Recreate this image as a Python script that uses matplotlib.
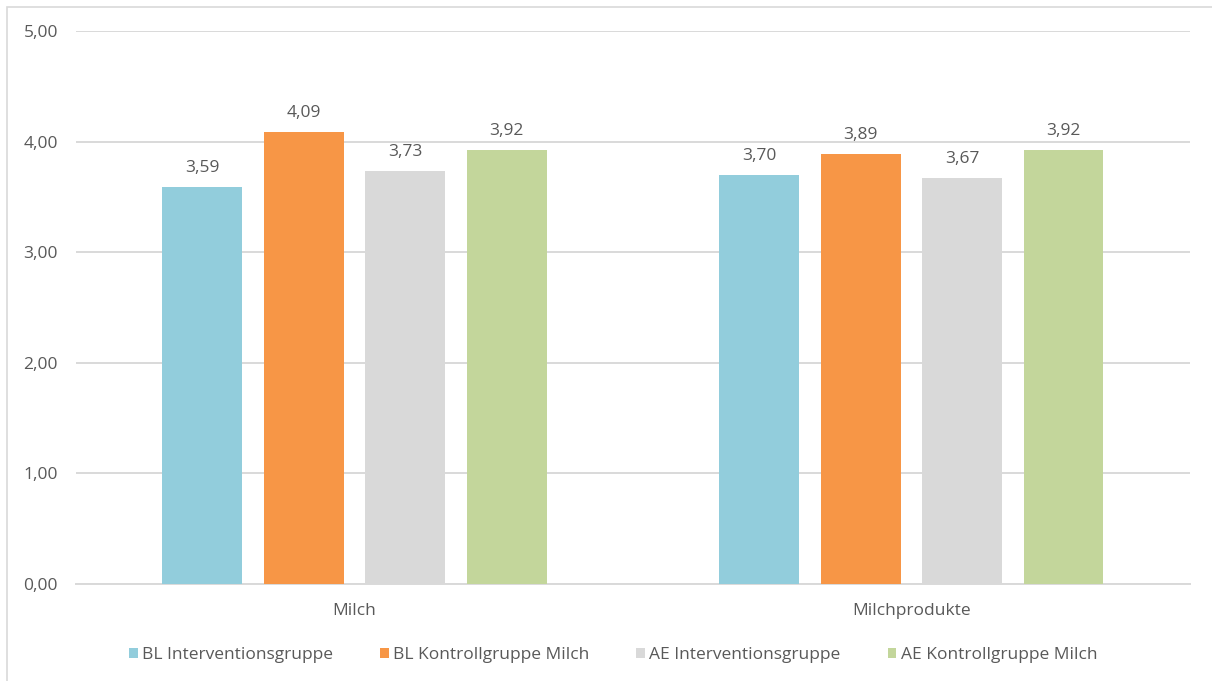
"""Milch / Milchprodukte: Mittelwerte je Gruppe (BL und AE)."""
import numpy as np
import matplotlib
matplotlib.use('Agg')
from matplotlib import pyplot as plt
from matplotlib.patches import Rectangle

plt.rcParams['font.family'] = ['Open Sans', 'DejaVu Sans']

categories = ['Milch', 'Milchprodukte']
series = ['BL Interventionsgruppe', 'BL Kontrollgruppe Milch',
          'AE Interventionsgruppe', 'AE Kontrollgruppe Milch']
bl_intervention = [3.59, 3.70]
bl_kontroll = [4.09, 3.89]
ae_intervention = [3.73, 3.67]
ae_kontroll = [3.92, 3.92]

colours = ['#92CDDC', '#F79646', '#D9D9D9', '#C3D69B']
text_col = '#595959'
grid_col = '#D9D9D9'
fs = 12.5


def komma(v):
    return ('%.2f' % v).replace('.', ',')


fig = plt.figure(figsize=(12.12, 6.81), dpi=100)
ax = fig.add_axes([0.0627, 0.1424, 0.9191, 0.8121])

# outer chart frame
fig.patches.append(Rectangle((7/1212, -0.01), 1.2, 1 - 7/681 + 0.01,
                             transform=fig.transFigure, fill=False,
                             edgecolor='#D9D9D9', lw=1.2))

x = np.arange(len(categories)) + 0.5
width = 0.1436
step = 0.182
values = [bl_intervention, bl_kontroll, ae_intervention, ae_kontroll]
for i, (name, vals) in enumerate(zip(series, values)):
    pos = x + (i - 1.5) * step
    bars = ax.bar(pos, vals, width, color=colours[i], label=name, zorder=3)
    for b, v in zip(bars, vals):
        ax.annotate(komma(v), (b.get_x() + b.get_width()/2, v),
                    xytext=(0, 8), textcoords='offset points',
                    ha='center', va='bottom', fontsize=fs, color=text_col)

ax.set_xlim(0, 2)
ax.set_ylim(0, 5)
ax.set_yticks(np.arange(0, 5.01, 1))
ax.set_yticklabels([komma(t) for t in np.arange(0, 5.01, 1)])
ax.set_xticks(x)
ax.set_xticklabels(categories)
ax.yaxis.grid(True, color=grid_col, lw=1.4, zorder=0)
ax.set_axisbelow(True)
for s in ['top', 'right', 'left']:
    ax.spines[s].set_visible(False)
ax.spines['bottom'].set_color(grid_col)
ax.spines['bottom'].set_linewidth(1.4)
ax.tick_params(axis='both', length=0, labelsize=fs, labelcolor=text_col)
ax.tick_params(axis='y', pad=13)
ax.tick_params(axis='x', pad=14)

# legend centred on the whole chart frame, not on the plot area
fig.legend(*ax.get_legend_handles_labels(), loc='center',
           bbox_to_anchor=(0.506, 0.038), ncol=4, frameon=False,
           fontsize=fs, labelcolor=text_col, handlelength=0.5,
           handleheight=0.5, handletextpad=0.25, columnspacing=2.7)

plt.savefig('out.png', dpi=100)
